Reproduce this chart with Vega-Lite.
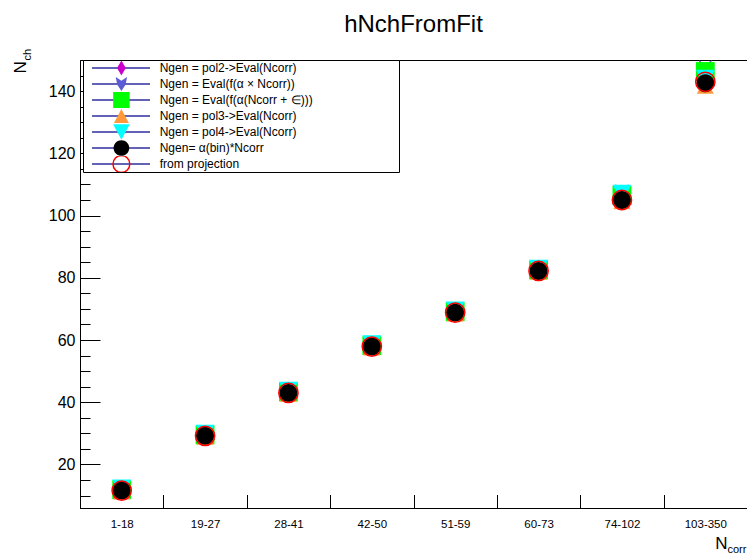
{
  "$schema": "https://vega.github.io/schema/vega-lite/v6.json",
  "width": 667,
  "height": 448,
  "autosize": {"type": "none"},
  "padding": {"left": 80, "top": 60, "right": 0, "bottom": 46},
  "background": "white",
  "config": {
    "view": {"stroke": "black", "strokeWidth": 1},
    "font": "Liberation Sans",
    "axis": {"grid": false, "domainColor": "black", "tickColor": "black", "labelColor": "black", "titleColor": "black", "labelFont": "Liberation Sans", "titleFont": "Liberation Sans", "titleFontWeight": "normal", "domainWidth": 1, "tickWidth": 1}
  },
  "title": {"text": "hNchFromFit", "fontSize": 24, "fontWeight": "normal", "font": "Liberation Sans", "color": "black", "anchor": "middle", "frame": "group", "baseline": "alphabetic", "offset": 0, "dy": 8},
  "datasets": {
    "pts": [
      {"bin": "1-18", "series": "Ngen = pol2->Eval(Ncorr)", "y": 11.7},
      {"bin": "19-27", "series": "Ngen = pol2->Eval(Ncorr)", "y": 29.3},
      {"bin": "28-41", "series": "Ngen = pol2->Eval(Ncorr)", "y": 43.1},
      {"bin": "42-50", "series": "Ngen = pol2->Eval(Ncorr)", "y": 58.0},
      {"bin": "51-59", "series": "Ngen = pol2->Eval(Ncorr)", "y": 68.9},
      {"bin": "60-73", "series": "Ngen = pol2->Eval(Ncorr)", "y": 82.3},
      {"bin": "74-102", "series": "Ngen = pol2->Eval(Ncorr)", "y": 106.0},
      {"bin": "103-350", "series": "Ngen = pol2->Eval(Ncorr)", "y": 145.0},
      {"bin": "1-18", "series": "Ngen = Eval(f(α × Ncorr))", "y": 11.8},
      {"bin": "19-27", "series": "Ngen = Eval(f(α × Ncorr))", "y": 29.4},
      {"bin": "28-41", "series": "Ngen = Eval(f(α × Ncorr))", "y": 43.2},
      {"bin": "42-50", "series": "Ngen = Eval(f(α × Ncorr))", "y": 58.1},
      {"bin": "51-59", "series": "Ngen = Eval(f(α × Ncorr))", "y": 69.0},
      {"bin": "60-73", "series": "Ngen = Eval(f(α × Ncorr))", "y": 82.4},
      {"bin": "74-102", "series": "Ngen = Eval(f(α × Ncorr))", "y": 107.5},
      {"bin": "103-350", "series": "Ngen = Eval(f(α × Ncorr))", "y": 147.4},
      {"bin": "1-18", "series": "Ngen = Eval(f(α(Ncorr + ∈)))", "y": 11.9},
      {"bin": "19-27", "series": "Ngen = Eval(f(α(Ncorr + ∈)))", "y": 29.5},
      {"bin": "28-41", "series": "Ngen = Eval(f(α(Ncorr + ∈)))", "y": 43.3},
      {"bin": "42-50", "series": "Ngen = Eval(f(α(Ncorr + ∈)))", "y": 58.2},
      {"bin": "51-59", "series": "Ngen = Eval(f(α(Ncorr + ∈)))", "y": 69.1},
      {"bin": "60-73", "series": "Ngen = Eval(f(α(Ncorr + ∈)))", "y": 82.5},
      {"bin": "74-102", "series": "Ngen = Eval(f(α(Ncorr + ∈)))", "y": 106.5},
      {"bin": "103-350", "series": "Ngen = Eval(f(α(Ncorr + ∈)))", "y": 146.3},
      {"bin": "1-18", "series": "Ngen = pol3->Eval(Ncorr)", "y": 11.3},
      {"bin": "19-27", "series": "Ngen = pol3->Eval(Ncorr)", "y": 28.9},
      {"bin": "28-41", "series": "Ngen = pol3->Eval(Ncorr)", "y": 42.7},
      {"bin": "42-50", "series": "Ngen = pol3->Eval(Ncorr)", "y": 57.6},
      {"bin": "51-59", "series": "Ngen = pol3->Eval(Ncorr)", "y": 68.5},
      {"bin": "60-73", "series": "Ngen = pol3->Eval(Ncorr)", "y": 81.9},
      {"bin": "74-102", "series": "Ngen = pol3->Eval(Ncorr)", "y": 104.6},
      {"bin": "103-350", "series": "Ngen = pol3->Eval(Ncorr)", "y": 141.7},
      {"bin": "1-18", "series": "Ngen = pol4->Eval(Ncorr)", "y": 12.3},
      {"bin": "19-27", "series": "Ngen = pol4->Eval(Ncorr)", "y": 29.9},
      {"bin": "28-41", "series": "Ngen = pol4->Eval(Ncorr)", "y": 43.7},
      {"bin": "42-50", "series": "Ngen = pol4->Eval(Ncorr)", "y": 58.6},
      {"bin": "51-59", "series": "Ngen = pol4->Eval(Ncorr)", "y": 69.5},
      {"bin": "60-73", "series": "Ngen = pol4->Eval(Ncorr)", "y": 82.9},
      {"bin": "74-102", "series": "Ngen = pol4->Eval(Ncorr)", "y": 107.0},
      {"bin": "103-350", "series": "Ngen = pol4->Eval(Ncorr)", "y": 144.0},
      {"bin": "1-18", "series": "Ngen= α(bin)*Ncorr", "y": 11.6},
      {"bin": "19-27", "series": "Ngen= α(bin)*Ncorr", "y": 29.2},
      {"bin": "28-41", "series": "Ngen= α(bin)*Ncorr", "y": 43.0},
      {"bin": "42-50", "series": "Ngen= α(bin)*Ncorr", "y": 57.9},
      {"bin": "51-59", "series": "Ngen= α(bin)*Ncorr", "y": 68.8},
      {"bin": "60-73", "series": "Ngen= α(bin)*Ncorr", "y": 82.2},
      {"bin": "74-102", "series": "Ngen= α(bin)*Ncorr", "y": 105.0},
      {"bin": "103-350", "series": "Ngen= α(bin)*Ncorr", "y": 142.5},
      {"bin": "1-18", "series": "from projection", "y": 11.6},
      {"bin": "19-27", "series": "from projection", "y": 29.2},
      {"bin": "28-41", "series": "from projection", "y": 43.0},
      {"bin": "42-50", "series": "from projection", "y": 57.9},
      {"bin": "51-59", "series": "from projection", "y": 68.8},
      {"bin": "60-73", "series": "from projection", "y": 82.2},
      {"bin": "74-102", "series": "from projection", "y": 105.0},
      {"bin": "103-350", "series": "from projection", "y": 143.0}
    ]
  },
  "layer": [
    {
      "data": {"values": []},
      "mark": {"type": "point", "filled": false, "color": "#2e2e9e", "strokeWidth": 1.5, "opacity": 1, "clip": true},
      "encoding": {
        "x": {"field": "bin", "type": "nominal", "scale": {"type": "band", "domain": ["1-18", "19-27", "28-41", "42-50", "51-59", "60-73", "74-102", "103-350"], "paddingInner": 0, "paddingOuter": 0},
          "axis": {"orient": "bottom", "title": "corr", "labels": false, "ticks": false, "domain": false, "titleFontSize": 11, "titleX": 647, "titleY": 44, "titleAlign": "left", "titleBaseline": "alphabetic"}},
        "y": {"field": "y", "type": "quantitative", "scale": {"domain": [6, 150], "nice": false, "zero": false},
          "axis": {"orient": "left", "title": "ch", "values": [10, 15, 25, 30, 35, 45, 50, 55, 65, 70, 75, 85, 90, 95, 105, 110, 115, 125, 130, 135, 145], "tickSize": -10, "labels": false, "domain": false, "titleFontSize": 11, "titleAngle": 270, "titleX": -50, "titleY": 0, "titleAlign": "left", "titleBaseline": "alphabetic"}},
        "shape": {"field": "series", "type": "nominal",
          "scale": {"domain": ["Ngen = pol2->Eval(Ncorr)", "Ngen = Eval(f(α × Ncorr))", "Ngen = Eval(f(α(Ncorr + ∈)))", "Ngen = pol3->Eval(Ncorr)", "Ngen = pol4->Eval(Ncorr)", "Ngen= α(bin)*Ncorr", "from projection"],
            "range": ["M-4,0L4,0", "M-4,0L4,0", "M-4,0L4,0", "M-4,0L4,0", "M-4,0L4,0", "M-4,0L4,0", "M-4,0L4,0"]},
          "legend": {"orient": "none", "legendX": 3, "legendY": 0, "title": null, "padding": 0, "fillColor": "white", "strokeColor": "black", "symbolSize": 210, "symbolStrokeWidth": 1.5, "symbolStrokeColor": "#2e2e9e", "symbolFillColor": "transparent", "symbolOpacity": 1, "symbolOffset": 30, "labelOffset": 30, "labelFontSize": 12, "labelFont": "Liberation Sans", "labelLimit": 400, "labelExpr": "'MMMMMMMMMMMMMMMMMMMMMMMM'", "labelOpacity": 0, "rowPadding": 0, "clipHeight": 16}}
      }
    },
    {
      "data": {"name": "pts"},
      "mark": {"type": "point", "filled": true, "size": 210, "strokeWidth": 1.5, "opacity": 1, "clip": true},
      "encoding": {
        "x": {"field": "bin", "type": "nominal", "scale": {"type": "band", "domain": ["1-18", "19-27", "28-41", "42-50", "51-59", "60-73", "74-102", "103-350"], "paddingInner": 0, "paddingOuter": 0},
          "axis": {"orient": "bottom", "title": "N", "tickBand": "extent", "tickSize": -13.5, "labelFontSize": 11.5, "labelPadding": 29.5, "labelBaseline": "middle", "labelAngle": 0, "titleFontSize": 17, "titleX": 647, "titleY": 40, "titleAlign": "right", "titleBaseline": "alphabetic"}},
        "y": {"field": "y", "type": "quantitative", "scale": {"domain": [6, 150], "nice": false, "zero": false},
          "axis": {"orient": "left", "title": "N", "values": [20, 40, 60, 80, 100, 120, 140], "tickSize": -20, "labelFontSize": 16, "labelPadding": 25, "titleFontSize": 17, "titleAngle": 270, "titleX": -55, "titleY": 13, "titleAlign": "left", "titleBaseline": "alphabetic"}},
        "fill": {"field": "series", "type": "nominal",
          "scale": {"domain": ["Ngen = pol2->Eval(Ncorr)", "Ngen = Eval(f(α × Ncorr))", "Ngen = Eval(f(α(Ncorr + ∈)))", "Ngen = pol3->Eval(Ncorr)", "Ngen = pol4->Eval(Ncorr)", "Ngen= α(bin)*Ncorr", "from projection"],
            "range": ["#cc00cc", "#5b5bd6", "#00ff00", "#ff9a3c", "#00ffff", "#000000", "transparent"]},
          "legend": {"orient": "none", "legendX": 3, "legendY": 0, "title": null, "padding": 0, "symbolSize": 160, "symbolStrokeWidth": 1.5, "symbolOpacity": 1, "symbolOffset": 30.9, "labelOffset": 30.8, "labelFontSize": 12, "labelFont": "Liberation Sans", "labelLimit": 400, "labelColor": "black", "rowPadding": 0, "clipHeight": 16}},
        "stroke": {"field": "series", "type": "nominal",
          "scale": {"domain": ["Ngen = pol2->Eval(Ncorr)", "Ngen = Eval(f(α × Ncorr))", "Ngen = Eval(f(α(Ncorr + ∈)))", "Ngen = pol3->Eval(Ncorr)", "Ngen = pol4->Eval(Ncorr)", "Ngen= α(bin)*Ncorr", "from projection"],
            "range": ["transparent", "transparent", "transparent", "transparent", "transparent", "transparent", "#ff0000"]},
          "legend": {"orient": "none", "legendX": 3, "legendY": 0, "title": null, "padding": 0, "symbolSize": 160, "symbolStrokeWidth": 1.5, "symbolOpacity": 1, "symbolOffset": 30.9, "labelOffset": 30.8, "labelFontSize": 12, "labelFont": "Liberation Sans", "labelLimit": 400, "labelColor": "black", "rowPadding": 0, "clipHeight": 16}},
        "shape": {"field": "series", "type": "nominal",
          "scale": {"domain": ["Ngen = pol2->Eval(Ncorr)", "Ngen = Eval(f(α × Ncorr))", "Ngen = Eval(f(α(Ncorr + ∈)))", "Ngen = pol3->Eval(Ncorr)", "Ngen = pol4->Eval(Ncorr)", "Ngen= α(bin)*Ncorr", "from projection"],
            "range": ["M0,-1.17L0.69,0L0,1.17L-0.69,0Z", "M-0.9,-1.1L0,-0.5L0.9,-1.1L0.65,0.1L0,1.1L-0.65,0.1Z", "M-1.3,-1.3H1.3V1.3H-1.3Z", "M0,-1.1L1.17,1.1L-1.17,1.1Z", "M-1.31,-1.24L1.31,-1.24L0,1.24Z", "M-1.24,0A1.24,1.24,0,1,0,1.24,0A1.24,1.24,0,1,0,-1.24,0Z", "M-1.33,0A1.33,1.33,0,1,0,1.33,0A1.33,1.33,0,1,0,-1.33,0Z"]},
          "legend": {"orient": "none", "legendX": 3, "legendY": 0, "title": null, "padding": 0, "symbolSize": 160, "symbolStrokeWidth": 1.5, "symbolOpacity": 1, "symbolOffset": 30.9, "labelOffset": 30.8, "labelFontSize": 12, "labelFont": "Liberation Sans", "labelLimit": 400, "labelColor": "black", "rowPadding": 0, "clipHeight": 16}}
      }
    }
  ],
  "resolve": {"scale": {"shape": "independent", "fill": "independent", "stroke": "independent"}, "axis": {"x": "independent", "y": "independent"}}
}
